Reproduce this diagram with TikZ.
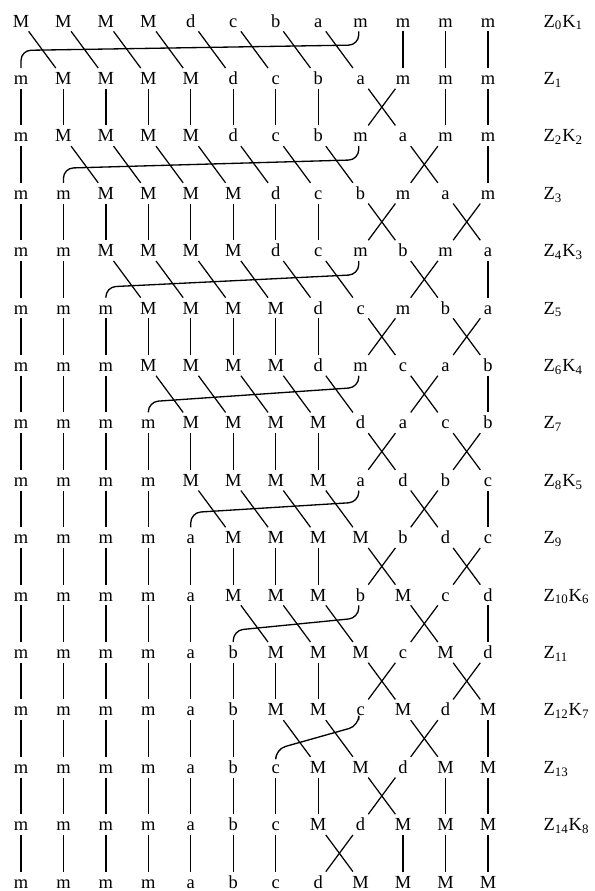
\documentclass[tikz,border=0pt]{standalone}
\usepackage{fontspec}
\setmainfont{Liberation Serif}
\usepackage{tikz}
\usetikzlibrary{positioning, calc}

\newcommand{\colstep}{0.849}
\newcommand{\rowstep}{1.148}

% straight strands from row #1 to the next row
\newcommand{\hold}[2]{%
  \pgfmathtruncatemacro{\nxt}{#1+1}%
  \foreach \cl in {#2} \draw[strand] (r#1-\cl) -- (r\nxt-\cl);%
}
% crossing strands (columns \cl and \cl+1)
\newcommand{\twist}[2]{%
  \pgfmathtruncatemacro{\nxt}{#1+1}%
  \foreach \cl [evaluate=\cl as \cn using int(\cl+1)] in {#2} {%
    \draw[strand] (r#1-\cl) -- (r\nxt-\cn);
    \draw[strand] (r#1-\cn) -- (r\nxt-\cl);
  }%
}
% column 8 carried back to column #2, the rest slides right
% (#3 = rise of the hook above the target, #4 = drop below the source)
\newcommand{\carry}[4]{%
  \pgfmathtruncatemacro{\nxt}{#1+1}%
  \foreach \cl [evaluate=\cl as \cn using int(\cl+1)] in {#2,...,7}
    \draw[strand] (r#1-\cl) -- (r\nxt-\cn);
  \draw[hook] (r\nxt-#2.north) -- ($(r\nxt-#2)+(0,#3)$)
    -- ($(r#1-8)+(-0.04,-#4)$) -- (r#1-8.-100);%
}

\begin{document}
\begin{tikzpicture}[
    ltr/.style={inner sep=0pt, minimum width=0.36cm, minimum height=0.4cm,
        font=\fontsize{10.5pt}{12pt}\selectfont,
        text height=6.95pt, text depth=0pt},
    lab/.style={inner sep=0pt, minimum height=0.4cm,
        font=\fontsize{10.5pt}{12pt}\selectfont,
        text height=6.95pt, text depth=0pt},
    strand/.style={line width=0.7pt},
    hook/.style={line width=0.75pt, rounded corners=0.2cm},
]
\useasboundingbox (-0.42, 0.42) rectangle (11.48, -17.40);

% LETTERS
\foreach \row [count=\rw from 0] in {
    {M,M,M,M,d,c,b,a,m,m,m,m},
    {m,M,M,M,M,d,c,b,a,m,m,m},
    {m,M,M,M,M,d,c,b,m,a,m,m},
    {m,m,M,M,M,M,d,c,b,m,a,m},
    {m,m,M,M,M,M,d,c,m,b,m,a},
    {m,m,m,M,M,M,M,d,c,m,b,a},
    {m,m,m,M,M,M,M,d,m,c,a,b},
    {m,m,m,m,M,M,M,M,d,a,c,b},
    {m,m,m,m,M,M,M,M,a,d,b,c},
    {m,m,m,m,a,M,M,M,M,b,d,c},
    {m,m,m,m,a,M,M,M,b,M,c,d},
    {m,m,m,m,a,b,M,M,M,c,M,d},
    {m,m,m,m,a,b,M,M,c,M,d,M},
    {m,m,m,m,a,b,c,M,M,d,M,M},
    {m,m,m,m,a,b,c,M,d,M,M,M},
    {m,m,m,m,a,b,c,d,M,M,M,M}}{
  \foreach \lt [count=\cl from 0] in \row
    \node[ltr] (r\rw-\cl) at (\cl*\colstep, -\rw*\rowstep) {\lt};
}

% ROW LABELS
\foreach \zk [count=\rw from 0] in {
    Z\textsubscript{0}K\textsubscript{1}, Z\textsubscript{1},
    Z\textsubscript{2}K\textsubscript{2}, Z\textsubscript{3},
    Z\textsubscript{4}K\textsubscript{3}, Z\textsubscript{5},
    Z\textsubscript{6}K\textsubscript{4}, Z\textsubscript{7},
    Z\textsubscript{8}K\textsubscript{5}, Z\textsubscript{9},
    Z\textsubscript{10}K\textsubscript{6}, Z\textsubscript{11},
    Z\textsubscript{12}K\textsubscript{7}, Z\textsubscript{13},
    Z\textsubscript{14}K\textsubscript{8}}
  \node[lab, right=0.92cm of r\rw-11] (z\rw) {\zk};

% STRANDS
\carry{0}{0}{0.56}{0.48}  \hold{0}{9,10,11}
\hold{1}{0,...,7,10,11}  \twist{1}{8}
\carry{2}{1}{0.5}{0.48}  \hold{2}{0,11}  \twist{2}{9}
\hold{3}{0,...,7}  \twist{3}{8,10}
\carry{4}{2}{0.42}{0.48}  \hold{4}{0,1,11}  \twist{4}{9}
\hold{5}{0,...,7}  \twist{5}{8,10}
\carry{6}{3}{0.42}{0.44}  \hold{6}{0,...,2,11}  \twist{6}{9}
\hold{7}{0,...,7}  \twist{7}{8,10}
\carry{8}{4}{0.5}{0.44}  \hold{8}{0,...,3,11}  \twist{8}{9}
\hold{9}{0,...,7}  \twist{9}{8,10}
\carry{10}{5}{0.44}{0.46}  \hold{10}{0,...,4,11}  \twist{10}{9}
\hold{11}{0,...,7}  \twist{11}{8,10}
\carry{12}{6}{0.36}{0.32}  \hold{12}{0,...,5,11}  \twist{12}{9}
\hold{13}{0,...,7,10,11}  \twist{13}{8}
\hold{14}{0,...,6,9,10,11}  \twist{14}{7}

\end{tikzpicture}
\end{document}
